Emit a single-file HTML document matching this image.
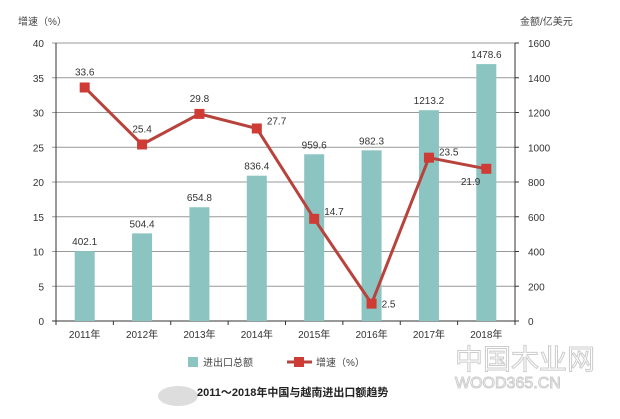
<!DOCTYPE html>
<html><head><meta charset="utf-8"><style>
body{margin:0;background:#fff;}
svg text{font-family:"Liberation Sans","Noto Sans CJK SC",sans-serif;}
</style></head><body>
<svg id="c" width="620" height="414" viewBox="0 0 620 414"></svg>
<script>
const categories=["2011年","2012年","2013年","2014年","2015年","2016年","2017年","2018年"];
const totals=[402.1,504.4,654.8,836.4,959.6,982.3,1213.2,1478.6];
const growth=[33.6,25.4,29.8,27.7,14.7,2.5,23.5,21.9];
const leftTicks=[0,5,10,15,20,25,30,35,40];
const rightTicks=[0,200,400,600,800,1000,1200,1400,1600];
const NS="http://www.w3.org/2000/svg";
const svg=document.getElementById('c');
const X0=56,X1=515,Y0=321,Y1=43;
const band=(X1-X0)/categories.length;
const xc=i=>X0+band*(i+0.5);
const yL=v=>Y0-(v/40)*(Y0-Y1);
const yR=v=>Y0-(v/1600)*(Y0-Y1);
function mk(t,a,txt){const e=document.createElementNS(NS,t);for(const k in a)e.setAttribute(k,a[k]);if(txt!==undefined)e.textContent=txt;svg.appendChild(e);return e;}
leftTicks.forEach(v=>{
 const g=mk('line',{x1:X0-4,x2:X1,y1:yL(v),y2:yL(v),stroke:v===0?'#333':'#999','stroke-width':1});
 
 
 const t=mk('text',{x:X0-12,y:yL(v)+4,'text-anchor':'end','font-size':10,fill:'#333'},v);
 
 
});
rightTicks.forEach(v=>{
 const l=mk('line',{x1:X1,x2:X1+4,y1:yR(v),y2:yR(v),stroke:'#333'});
 
 
 const t=mk('text',{x:X1+13,y:yR(v)+4,'font-size':10,fill:'#333'},v);
 
 
});
const la=mk('line',{x1:X0,x2:X0,y1:Y1,y2:Y0,stroke:'#333'});

const ra=mk('line',{x1:X1,x2:X1,y1:Y1,y2:Y0,stroke:'#333'});

for(let i=0;i<=categories.length;i++){
 const tk=mk('line',{x1:X0+band*i,x2:X0+band*i,y1:Y0,y2:Y0+4,stroke:'#333'});
 
}
categories.forEach((c,i)=>{
 const t=mk('text',{x:xc(i),y:Y0+17,'text-anchor':'middle','font-size':10,fill:'#333'},c);
 
 const b=mk('rect',{x:xc(i)-10,y:yR(totals[i]),width:20,height:Y0-yR(totals[i]),fill:'#8cc4c2'});
 
 const bl=mk('text',{x:xc(i),y:yR(totals[i])-6,'text-anchor':'middle','font-size':10,fill:'#333'},totals[i].toFixed(1));
 
});
const pts=growth.map((v,i)=>xc(i)+','+yL(v)).join(' ');
const pl=mk('polyline',{points:pts,fill:'none',stroke:'#b8433c','stroke-width':3});

const off=[[0,-12,'middle'],[0,-12,'middle'],[0,-12,'middle'],[10,-4,'start'],[10,-4,'start'],[10,4,'start'],[10,-2,'start'],[-6,16,'end']];
growth.forEach((v,i)=>{
 const m=mk('rect',{x:xc(i)-5,y:yL(v)-5,width:10,height:10,fill:'#cf3b35'});
 
 const t=mk('text',{x:xc(i)+off[i][0],y:yL(v)+off[i][1],'text-anchor':off[i][2],'font-size':10,fill:'#333'},v.toFixed(1));
 
});
</script>
<svg style="position:absolute;left:0;top:0" width="620" height="414">
<text x="18" y="25" font-size="10" fill="#444">增速（%）</text>
<text x="520" y="25" font-size="10" fill="#444">金额/亿美元</text>
<rect x="188" y="357" width="10" height="10" fill="#8cc4c2"/>
<text x="203" y="366" font-size="10" fill="#444">进出口总额</text>
<line x1="287" y1="362" x2="312" y2="362" stroke="#b8433c" stroke-width="3"/>
<rect x="294" y="357" width="10" height="10" fill="#cf3b35"/>
<text x="316" y="366" font-size="10" fill="#444">增速（%）</text>
<ellipse cx="178" cy="396" rx="20" ry="10" fill="#ddd"/>
<text x="197" y="396" font-size="11" font-weight="bold" fill="#222">2011～2018年中国与越南进出口额趋势</text>
<text x="455" y="369" font-size="28" fill="none" stroke="#ccc">中国木业网</text>
<text x="455" y="388" font-size="16" fill="none" stroke="#ccc">WOOD365.CN</text>
</svg>
</body></html>
